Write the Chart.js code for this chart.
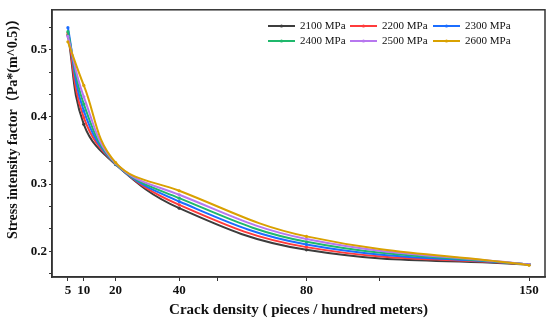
<!DOCTYPE html>
<html>
<head>
<meta charset="utf-8">
<script src="https://cdn.jsdelivr.net/npm/chart.js@4.4.1/dist/chart.umd.min.js"></script>
<style>
  html, body { margin: 0; padding: 0; background: #ffffff; }
  #wrap { width: 550px; height: 323px; }
</style>
</head>
<body>
<div id="wrap"><canvas id="c" width="550" height="323"></canvas></div>
<script>
// ---- data ----
const crackDensity = [5, 10, 20, 40, 80, 150];
const seriesNames = ['2100 MPa', '2200 MPa', '2300 MPa', '2400 MPa', '2500 MPa', '2600 MPa'];
const sif2100 = [0.522, 0.389, 0.329, 0.264, 0.202, 0.180];
const sif2200 = [0.525, 0.399, 0.330, 0.269, 0.206, 0.180];
const sif2300 = [0.533, 0.409, 0.330, 0.274, 0.210, 0.180];
const sif2400 = [0.527, 0.419, 0.330, 0.279, 0.214, 0.180];
const sif2500 = [0.520, 0.430, 0.331, 0.284, 0.218, 0.180];
const sif2600 = [0.512, 0.447, 0.332, 0.290, 0.222, 0.179];
const seriesColors = ['#3d3d3d', '#ff3b3b', '#1b6dff', '#1fb86c', '#b777ef', '#d9a100'];
const xTickLabels = [5, 10, 20, 40, 80, 150];
const xMinorTicks = [52, 103];
const yTickLabels = [0.2, 0.3, 0.4, 0.5];
const yMinorTicks = [0.1667, 0.2333, 0.2667, 0.3333, 0.3667, 0.4333, 0.4667, 0.5333];
const xTitle = 'Crack density ( pieces / hundred meters)';
const yTitle = 'Stress intensity factor（Pa*(m^0.5)）';

const allSeries = [sif2100, sif2200, sif2300, sif2400, sif2500, sif2600];

const datasets = allSeries.map((vals, i) => ({
  label: seriesNames[i],
  data: crackDensity.map((x, j) => ({ x: x, y: vals[j] })),
  borderColor: seriesColors[i],
  backgroundColor: seriesColors[i],
  borderWidth: 2,
  pointRadius: 1.6,
  pointBorderWidth: 0,
  tension: 0.4,
  order: allSeries.length - i
}));

const serif = "'Liberation Serif', 'Times New Roman', 'Noto Sans CJK SC', serif";

const framePlugin = {
  id: 'frame',
  afterDraw(chart) {
    const { ctx, chartArea: a } = chart;
    ctx.save();
    ctx.strokeStyle = '#333333';
    ctx.lineWidth = 1.5;
    ctx.strokeRect(a.left, a.top, a.right - a.left, a.bottom - a.top);
    // y-axis title (placed like the reference, slightly above centre)
    ctx.translate(13, 125.5);
    ctx.rotate(-Math.PI / 2);
    ctx.font = "bold 14px " + serif;
    ctx.fillStyle = '#111111';
    ctx.textAlign = 'center';
    ctx.textBaseline = 'middle';
    ctx.fillText(yTitle, 0, 0);
    ctx.restore();
  }
};

const legendPlugin = {
  id: 'insideLegend',
  afterDraw(chart) {
    const { ctx } = chart;
    const colX = [268, 350, 433];
    const rowY = [26, 41];
    ctx.save();
    ctx.font = "11px " + serif;
    ctx.textBaseline = 'middle';
    ctx.textAlign = 'left';
    seriesNames.forEach((name, i) => {
      const x = colX[i % 3];
      const y = rowY[Math.floor(i / 3)];
      ctx.strokeStyle = seriesColors[i];
      ctx.lineWidth = 2;
      ctx.beginPath();
      ctx.moveTo(x, y);
      ctx.lineTo(x + 27, y);
      ctx.stroke();
      ctx.fillStyle = seriesColors[i];
      ctx.beginPath();
      ctx.arc(x + 13.5, y, 1.6, 0, Math.PI * 2);
      ctx.fill();
      ctx.fillStyle = '#111111';
      ctx.fillText(name, x + 32, y + 0.5);
    });
    ctx.restore();
  }
};

new Chart(document.getElementById('c'), {
  type: 'line',
  data: { datasets: datasets },
  plugins: [framePlugin, legendPlugin],
  options: {
    responsive: false,
    animation: false,
    devicePixelRatio: 1,
    layout: { padding: { top: 5, right: 5, left: 0, bottom: 0 } },
    plugins: { legend: { display: false }, tooltip: { enabled: false } },
    scales: {
      x: {
        type: 'linear',
        min: 0,
        max: 155,
        afterBuildTicks(scale) {
          scale.ticks = xTickLabels.concat(xMinorTicks).sort((a, b) => a - b).map(v => ({ value: v }));
        },
        afterFit(scale) { scale.height = 46; },
        ticks: {
          autoSkip: false,
          maxRotation: 0,
          padding: 2,
          color: '#111111',
          font: { family: serif, size: 13, weight: 'bold' },
          callback: (v) => xTickLabels.includes(v) ? String(v) : ''
        },
        grid: { drawOnChartArea: false, tickLength: 4, color: '#333333', tickColor: '#333333' },
        border: { display: true, color: '#333333', width: 1.5 },
        title: {
          display: true,
          text: xTitle,
          color: '#111111',
          font: { family: serif, size: 15, weight: 'bold' },
          padding: { top: 2, bottom: 4 }
        }
      },
      y: {
        type: 'linear',
        min: 0.1615,
        max: 0.5596,
        afterBuildTicks(scale) {
          scale.ticks = yTickLabels.concat(yMinorTicks).sort((a, b) => a - b).map(v => ({ value: v }));
        },
        afterFit(scale) { scale.width = 52; },
        ticks: {
          autoSkip: false,
          padding: 2,
          color: '#111111',
          font: { family: serif, size: 13, weight: 'bold' },
          callback: (v) => yTickLabels.includes(v) ? v.toFixed(1) : ''
        },
        grid: { drawOnChartArea: false, tickLength: 3, color: '#333333', tickColor: '#333333' },
        border: { display: true, color: '#333333', width: 1.5 },
        title: { display: false }
      }
    }
  }
});
</script>
</body>
</html>
